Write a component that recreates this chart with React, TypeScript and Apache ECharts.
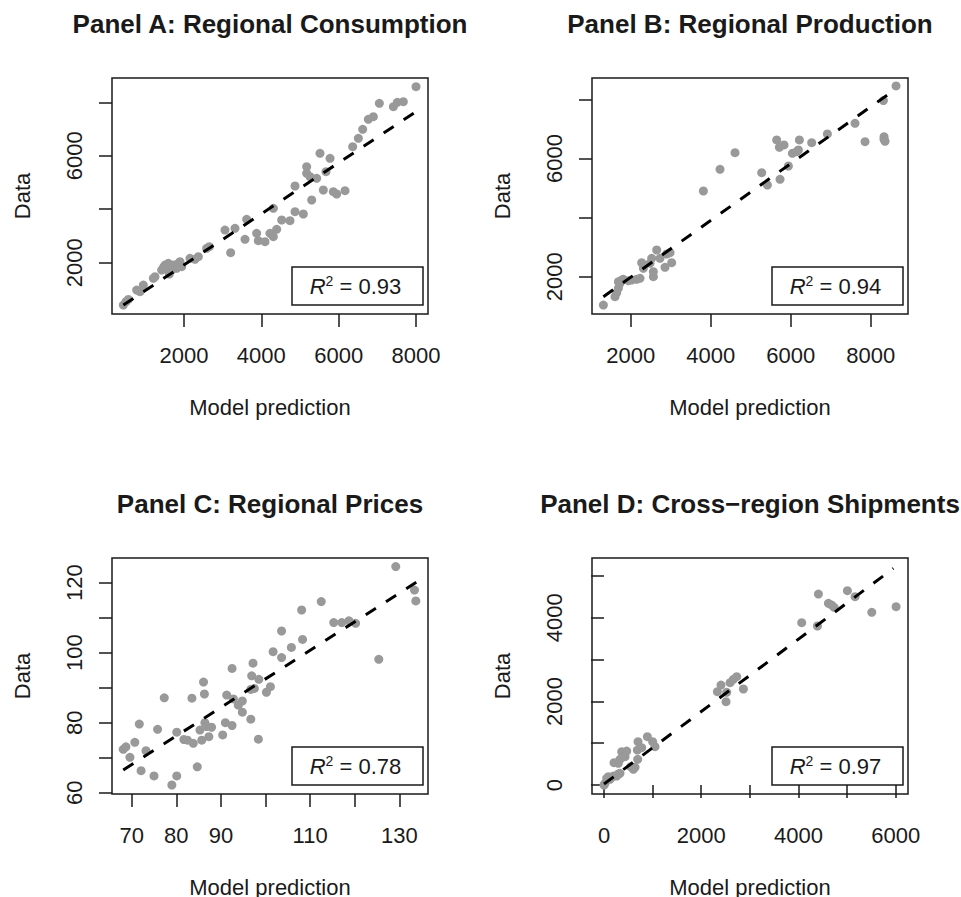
import React, { useEffect, useRef } from "react";
import * as echarts from "echarts";

const FONT = '"Liberation Sans", Arial, Helvetica, sans-serif';
const INK = "#1a1a1a";
const DOT = "#999999";

const titles = [
  "Panel A: Regional Consumption",
  "Panel B: Regional Production",
  "Panel C: Regional Prices",
  "Panel D: Cross\u2212region Shipments",
];
const r2Values = ["0.93", "0.94", "0.78", "0.97"];
const xAxisTitle = "Model prediction";
const yAxisTitle = "Data";

// Panel A
const aPred = [431,500,560,776,862,948,1207,1250,1422,1466,1509,1552,1595,1638,1681,1621,1724,1810,1897,1940,1853,2155,2284,2371,2586,2655,3060,3319,3207,3578,3621,3879,3922,4095,4224,4310,4397,4310,4526,4741,4871,5086,4871,5172,5172,5259,5431,5302,5517,5603,5672,5776,5862,5948,6164,6362,6509,6621,6767,6897,7052,7414,7517,7672,8000];
const aData = [416,541,628,977,915,1164,1414,1476,1726,1825,1913,1788,1975,1850,1726,1576,1913,1788,2037,1850,1975,2162,2125,2225,2536,2599,3222,3285,2374,2873,3622,3098,2823,2786,3098,2973,3247,4033,3597,3572,3908,3821,4869,5592,5343,5218,5156,4345,6091,4719,5405,5904,4657,4570,4694,6341,6653,6989,7364,7463,7962,7837,7999,8024,8586];
const aFitPred = [431, 8000];
const aFitData = [416, 7650];

// Panel B
const bPred = [1317,1608,1650,1692,1733,1775,1692,1817,1942,2025,2150,2233,2275,2317,2483,2525,2567,2567,2650,2733,2858,2900,2983,3025,3817,4233,4608,5275,5417,5650,5717,5833,5733,5942,6042,6150,6217,6192,6525,6917,7608,7858,8333,8333,8358,8317,8633];
const bData = [1041,1323,1459,1605,1774,1887,1831,1910,1865,1887,1910,1944,2474,2282,2451,2620,2169,2000,2902,2620,2316,2767,2812,2474,4898,5631,6195,5519,5101,6624,6376,6455,5293,5744,6173,6229,6624,6286,6534,6827,7188,6568,6737,6647,6579,7955,8451];
const bFitPred = [1317, 8650];
const bFitData = [1323, 8372];

// Panel C
const cPred = [68.1,68.7,69.6,70.7,71.7,72.1,73.2,75.0,75.8,77.3,79.0,80.1,80.1,81.7,82.5,83.5,83.8,84.7,85.7,86.1,86.3,86.4,85.3,86.8,87.3,87.9,90.4,91.0,91.3,92.5,92.5,92.8,93.9,94.8,94.8,96.7,96.7,96.9,97.2,97.5,98.4,98.5,100.2,101.1,101.7,103.6,103.6,105.8,108.1,108.3,112.5,115.3,117.1,118.7,120.2,125.4,129.2,133.4,133.7];
const cData = [72.4,73.1,70.1,74.4,79.6,66.3,72.0,64.8,78.1,87.1,62.2,77.3,64.8,75.2,75.0,87.0,74.1,67.4,75.0,91.6,88.2,80.0,77.9,78.9,76.0,78.7,76.5,80.0,87.9,95.5,79.2,86.8,85.0,86.2,83.0,81.0,89.5,93.4,97.0,89.8,75.3,92.4,88.7,90.3,100.3,98.6,106.2,101.5,112.2,103.8,114.6,108.6,108.6,109.1,108.4,98.1,124.6,117.9,114.8];
const cFitPred = [68.1, 133.8];
const cFitData = [66.5, 120.1];

// Panel D
const dPred = [0,21,55,89,123,158,192,261,295,329,206,295,329,364,398,466,432,549,604,638,693,700,686,775,892,1001,1049,2332,2407,2510,2524,2593,2661,2730,2867,4067,4390,4410,4616,4684,4733,5007,5165,5508,6008];
const dData = [0,40,160,200,136,183,215,215,263,279,534,518,614,797,718,813,678,439,375,423,614,1037,837,893,1156,1037,917,2233,2392,1994,2217,2448,2528,2592,2297,3884,3804,4569,4346,4306,4250,4649,4506,4131,4266];
const dFitPred = [0, 5953];
const dFitData = [24, 5183];

// Ticks and labels
const aXTicks = [2000, 4000, 6000, 8000];
const aXLabels = [2000, 4000, 6000, 8000];
const aYTicks = [2000, 4000, 6000, 8000];
const aYLabels = [2000, 6000];
const bXTicks = [2000, 4000, 6000, 8000];
const bXLabels = [2000, 4000, 6000, 8000];
const bYTicks = [2000, 4000, 6000, 8000];
const bYLabels = [2000, 6000];
const cXTicks = [70, 80, 90, 100, 110, 120, 130];
const cXLabels = [70, 80, 90, 110, 130];
const cYTicks = [60, 70, 80, 90, 100, 110, 120];
const cYLabels = [60, 80, 100, 120];
const dXTicks = [0, 1000, 2000, 3000, 4000, 5000, 6000];
const dXLabels = [0, 2000, 4000, 6000];
const dYTicks = [0, 1000, 2000, 3000, 4000, 5000];
const dYLabels = [0, 2000, 4000];

// Axis extents (R style, 4% padding)
const aXRange = [138, 8310];
const aYRange = [81, 8909];
const bXRange = [1033, 8932];
const bYRange = [738, 8720];
const cXRange = [65.58, 136.43];
const cYRange = [59.63, 127.06];
const dXRange = [-247, 6253];
const dYRange = [-215, 5431];

const GRID_W = 316;
const GRID_H = 236;
const gridPos = [
  { left: 112, top: 78 },
  { left: 592, top: 78 },
  { left: 112, top: 558 },
  { left: 592, top: 558 },
];

const panels = [
  { pred: aPred, data: aData, fp: aFitPred, fd: aFitData, xt: aXTicks, xl: aXLabels, yt: aYTicks, yl: aYLabels, xr: aXRange, yr: aYRange },
  { pred: bPred, data: bData, fp: bFitPred, fd: bFitData, xt: bXTicks, xl: bXLabels, yt: bYTicks, yl: bYLabels, xr: bXRange, yr: bYRange },
  { pred: cPred, data: cData, fp: cFitPred, fd: cFitData, xt: cXTicks, xl: cXLabels, yt: cYTicks, yl: cYLabels, xr: cXRange, yr: cYRange },
  { pred: dPred, data: dData, fp: dFitPred, fd: dFitData, xt: dXTicks, xl: dXLabels, yt: dYTicks, yl: dYLabels, xr: dXRange, yr: dYRange },
];

function axis(i: number, range: number[], ticks: number[], labels: number[], isY: boolean) {
  return {
    type: "value",
    gridIndex: i,
    min: range[0],
    max: range[1],
    axisLine: { show: false },
    splitLine: { show: false },
    axisTick: {
      show: true,
      length: 13,
      customValues: ticks,
      lineStyle: { color: INK, width: 1.5 },
    },
    axisLabel: {
      customValues: labels,
      formatter: (v: number) => String(v),
      fontSize: 22,
      fontFamily: FONT,
      color: INK,
      margin: isY ? 27 : 30,
      rotate: isY ? 90 : 0,
    },
    name: isY ? yAxisTitle : xAxisTitle,
    nameLocation: "middle",
    nameGap: isY ? 79 : 82,
    nameTextStyle: { fontSize: 22, fontFamily: FONT, color: INK },
  };
}

export default function App() {
  const ref = useRef<HTMLDivElement>(null);
  useEffect(() => {
    if (!ref.current) return;
    const chart = echarts.init(ref.current, null, { renderer: "svg" });
    const grid = gridPos.map((g) => ({
      left: g.left,
      top: g.top,
      width: GRID_W,
      height: GRID_H,
      show: true,
      borderColor: INK,
      borderWidth: 1.5,
      backgroundColor: "transparent",
      containLabel: false,
      outerBoundsMode: "none",
    }));
    const xAxis = panels.map((p, i) => axis(i, p.xr, p.xt, p.xl, false));
    const yAxis = panels.map((p, i) => axis(i, p.yr, p.yt, p.yl, true));
    const series: any[] = [];
    panels.forEach((p, i) => {
      series.push({
        type: "scatter",
        xAxisIndex: i,
        yAxisIndex: i,
        symbol: "circle",
        symbolSize: 9,
        itemStyle: { color: DOT, opacity: 1 },
        data: p.pred.map((x, k) => [x, p.data[k]]),
        z: 2,
      });
      series.push({
        type: "line",
        xAxisIndex: i,
        yAxisIndex: i,
        showSymbol: false,
        symbol: "none",
        lineStyle: { color: "#000", width: 3, type: [12, 12] },
        data: p.fp.map((x, k) => [x, p.fd[k]]),
        z: 3,
      });
    });
    const graphic: any[] = [];
    gridPos.forEach((g, i) => {
      graphic.push({
        type: "text",
        x: g.left + GRID_W / 2,
        y: g.top - 54,
        style: {
          text: titles[i],
          fontSize: 26,
          fontWeight: "bold",
          fontFamily: FONT,
          fill: INK,
          align: "center",
          verticalAlign: "middle",
        },
      });
      const bx = g.left + GRID_W - 5 - 131;
      const by = g.top + GRID_H - 9 - 38;
      graphic.push({
        type: "rect",
        shape: { x: bx, y: by, width: 131, height: 38 },
        style: { fill: "#fff", stroke: INK, lineWidth: 1.5 },
        z: 10,
      });
      graphic.push({
        type: "text",
        x: bx + 131 / 2 - 2,
        y: by + 38 / 2,
        z: 11,
        style: {
          text: "{r|R}{s|2}{n| = " + r2Values[i] + "}",
          align: "center",
          verticalAlign: "middle",
          rich: {
            r: { fontSize: 22, fontStyle: "italic", fontFamily: FONT, fill: INK, lineHeight: 24 },
            s: { fontSize: 14, fontFamily: FONT, fill: INK, lineHeight: 14, verticalAlign: "top" },
            n: { fontSize: 22, fontFamily: FONT, fill: INK, lineHeight: 24 },
          },
        },
      });
    });
    chart.setOption({
      animation: false,
      backgroundColor: "#fff",
      grid,
      xAxis,
      yAxis,
      series,
      graphic,
    });
    return () => chart.dispose();
  }, []);
  return (
    <div
      ref={ref}
      style={{ position: "fixed", left: 0, top: 0, width: 961, height: 897, background: "#fff" }}
    />
  );
}
